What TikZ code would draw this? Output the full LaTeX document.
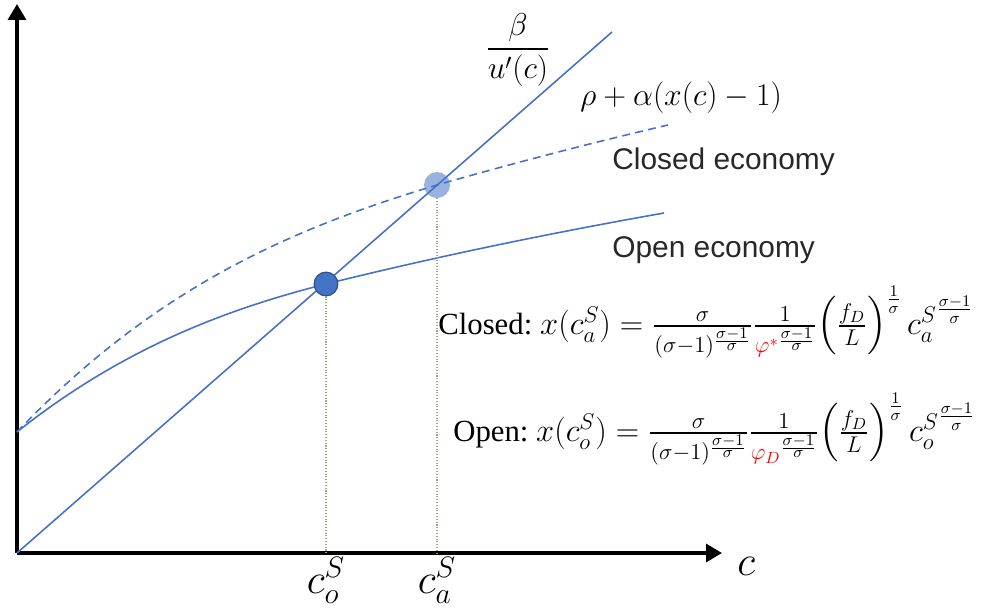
\documentclass[tikz,border=0pt]{standalone}
\usepackage{fix-cm}
\usepackage{amsmath,amssymb}
\usepackage{fontspec}
\usepackage{xcolor}
\usetikzlibrary{positioning,arrows.meta}
\newfontfamily\labelfont{Liberation Sans}
\newfontfamily\eqfont{Liberation Serif}
\definecolor{lineblue}{RGB}{68,114,196}
\definecolor{ptlight}{RGB}{143,170,220}
\definecolor{ptedge}{RGB}{47,82,143}
\definecolor{guidegreen}{RGB}{150,168,128}
\definecolor{labelgray}{RGB}{40,40,40}
\newcommand{\sfrac}{\frac{\sigma-1}{\sigma}}
\newcommand{\eqmath}{\fontsize{18.5}{21}\selectfont}

\begin{document}
\begin{tikzpicture}[
    x=0.02cm, y=-0.02cm,
    every node/.style={inner sep=0pt},
    axis/.style={line width=2.3pt, -{Triangle[length=9pt, width=10pt]}},
    curve/.style={lineblue, line width=0.9pt},
    closedcurve/.style={curve, dash pattern=on 4.5pt off 3pt},
    guide/.style={guidegreen, densely dotted, line width=0.6pt},
    eqdark/.style={circle, fill=lineblue, draw=ptedge, line width=0.7pt, minimum size=13.5pt},
    eqlight/.style={circle, fill=ptlight, fill opacity=0.9, minimum size=14.8pt},
    econ/.style={font=\labelfont\fontsize{17}{20}\selectfont, text=labelgray, anchor=base west},
    mathlab/.style={font=\fontsize{18}{21}\selectfont},
    bigmath/.style={font=\fontsize{24}{28}\selectfont, anchor=base},
    formula/.style={font=\eqfont\fontsize{17.5}{20}\selectfont, anchor=base west},
  ]
    % picture frame in pixel units (997 x 612)
    \useasboundingbox (0,0) rectangle (997,612);

    % Axes
    \coordinate (O) at (17,553);
    \coordinate (ytop) at (17,4);
    \coordinate (xtip) at (722,553);
    \draw[axis] (O) -- (ytop);
    \draw[axis] (O) -- (xtip);

    % Equilibrium points (closed one sits under the lines)
    \node[eqlight] (eqClosed) at (437,185) {};
    \coordinate (eqO) at (326,284);

    % beta / u'(c) line
    \coordinate (btop) at (612,32);
    \draw[curve] (O) -- (btop);

    % rho + alpha (x(c) - 1): closed (dashed) and open (solid)
    \coordinate (yint) at (17,432);
    \draw[closedcurve] (yint) .. controls (157,285) and (297,227) .. (eqClosed.center)
      .. controls (514,163) and (591,143) .. (668,125);
    \draw[curve] (yint) .. controls (120,350) and (223,310) .. (eqO)
      .. controls (439,256) and (551,233) .. (664,213);

    % Guides down to the c axis
    \draw[guide] (eqClosed) -- (eqClosed |- O);
    \node[eqdark] (eqOpen) at (eqO) {};
    \draw[guide] (eqOpen.south) -- (eqOpen |- O);

    % --- curve labels
    \node[mathlab] (blab) at (518,50) {$\dfrac{\beta}{u'(c)}$};
    \node[mathlab, anchor=base west] (rlab) at (580,105) {$\rho+\alpha(x(c)-1)$};
    \node[econ] (clab) at (612,169) {Closed economy};
    \node[econ] (olab) at (612,257) {Open economy};

    % --- axis labels
    \node[bigmath, anchor=base west] (cax) at (737,575) {$c$};
    \node[bigmath] (coS) at (eqOpen |- 0,593) {$c_o^S$};
    \node[bigmath] (caS) at (eqClosed |- 0,593) {$c_a^S$};

    % --- formulas
    \node[formula] (fClosed) at (438,334)
      {Closed:\hspace{4.5pt}{\eqmath$x(c_a^S)=\frac{\sigma}{(\sigma-1)^{\sfrac}}
       \frac{1}{{\color{red}\varphi^{*}}^{\sfrac}}
       \!\left(\frac{f_D}{L}\right)^{\frac{1}{\sigma}}{c_a^S}^{\sfrac}$}};
    \node[formula] (fOpen) at (453,441)
      {Open:\ {\eqmath$x(c_o^S)=\frac{\sigma}{(\sigma-1)^{\sfrac}}
       \frac{1}{{\color{red}\varphi_D}^{\sfrac}}
       \!\left(\frac{f_D}{L}\right)^{\frac{1}{\sigma}}{c_o^S}^{\sfrac}$}};
\end{tikzpicture}
\end{document}
